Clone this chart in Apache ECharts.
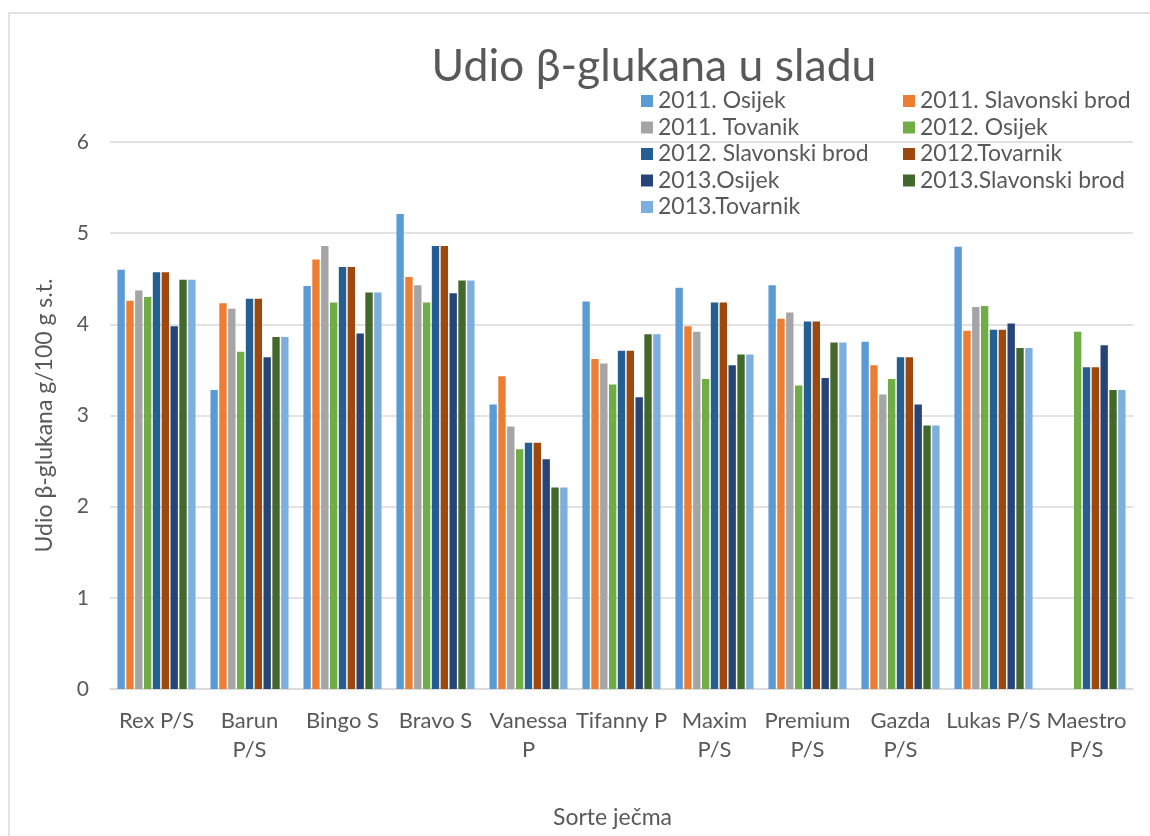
<!DOCTYPE html>
<html>
<head>
<meta charset="utf-8">
<script src="https://cdn.jsdelivr.net/npm/echarts@6/dist/echarts.min.js"></script>
<style>
html,body{margin:0;padding:0;background:#fff;}
#chart{width:1150px;height:836px;}
</style>
</head>
<body>
<div id="chart"></div>
<script>
var categories = ['Rex P/S','Barun\nP/S','Bingo S','Bravo S','Vanessa\nP','Tifanny P','Maxim\nP/S','Premium\nP/S','Gazda\nP/S','Lukas P/S','Maestro\nP/S'];
var seriesNames = ['2011. Osijek','2011. Slavonski brod','2011. Tovanik','2012. Osijek','2012. Slavonski brod','2012.Tovarnik','2013.Osijek','2013.Slavonski brod','2013.Tovarnik'];
var osijek2011   = [4.60, 3.28, 4.42, 5.21, 3.12, 4.25, 4.40, 4.43, 3.81, 4.85, null];
var slavBrod2011 = [4.26, 4.23, 4.71, 4.52, 3.43, 3.62, 3.98, 4.06, 3.55, 3.93, null];
var tovanik2011  = [4.37, 4.17, 4.86, 4.43, 2.88, 3.57, 3.92, 4.13, 3.23, 4.19, null];
var osijek2012   = [4.30, 3.70, 4.24, 4.24, 2.63, 3.34, 3.40, 3.33, 3.40, 4.20, 3.92];
var slavBrod2012 = [4.57, 4.28, 4.63, 4.86, 2.70, 3.71, 4.24, 4.03, 3.64, 3.94, 3.53];
var tovarnik2012 = [4.57, 4.28, 4.63, 4.86, 2.70, 3.71, 4.24, 4.03, 3.64, 3.94, 3.53];
var osijek2013   = [3.98, 3.64, 3.90, 4.34, 2.52, 3.20, 3.55, 3.41, 3.12, 4.01, 3.77];
var slavBrod2013 = [4.49, 3.86, 4.35, 4.48, 2.21, 3.89, 3.67, 3.80, 2.89, 3.74, 3.28];
var tovarnik2013 = [4.49, 3.86, 4.35, 4.48, 2.21, 3.89, 3.67, 3.80, 2.89, 3.74, 3.28];
var yTicks = [0, 1, 2, 3, 4, 5, 6];

var seriesData = [osijek2011, slavBrod2011, tovanik2011, osijek2012, slavBrod2012, tovarnik2012, osijek2013, slavBrod2013, tovarnik2013];
var colors = ['#5B9BD5','#ED7D31','#A5A5A5','#70AD47','#255E91','#9E480E','#264478','#43682B','#7CAFDD'];
var FONT = 'Lato';
var TXT = '#595959';

var chart = echarts.init(document.getElementById('chart'), null, {renderer:'canvas'});
var legendText = {color: TXT, fontSize: 23, fontFamily: FONT, lineHeight: 24};
var option = {
  animation: false,
  color: colors,
  textStyle: {fontFamily: FONT},
  graphic: [
    {type:'rect', shape:{x:9, y:13, width:1300, height:1000}, style:{fill:'none', stroke:'#d9d9d9', lineWidth:1.5}, silent:true, z:-10},
    {type:'text', x:654, y:44, style:{text:'Udio β-glukana u sladu', fontSize:44.5, fontFamily:FONT, fill:TXT, textAlign:'center', textVerticalAlign:'top'}}
  ],
  legend: [
    {orient:'vertical', left:636, top:84, itemWidth:12, itemHeight:12, itemGap:2.5, icon:'rect', textStyle:legendText,
     data:[seriesNames[0], seriesNames[2], seriesNames[4], seriesNames[6], seriesNames[8]]},
    {orient:'vertical', left:898, top:84, itemWidth:12, itemHeight:12, itemGap:2.5, icon:'rect', textStyle:legendText,
     data:[seriesNames[1], seriesNames[3], seriesNames[5], seriesNames[7]]}
  ],
  grid: {left:110, right:17, top:142, bottom:147, containLabel:false},
  xAxis: {
    type:'category', data: categories,
    axisLine:{lineStyle:{color:'#d9d9d9', width:1.5}},
    axisTick:{show:false},
    axisLabel:{color:TXT, fontSize:22, fontFamily:FONT, lineHeight:29, margin:17, interval:0},
    name:'Sorte ječma', nameLocation:'middle', nameGap:117,
    nameTextStyle:{color:TXT, fontSize:23, fontFamily:FONT, padding:[0,18,0,0]}
  },
  yAxis: {
    type:'value', min:yTicks[0], max:yTicks[yTicks.length-1], interval:1,
    axisLine:{show:false}, axisTick:{show:false},
    splitLine:{lineStyle:{color:'#d9d9d9', width:1.5}},
    axisLabel:{color:TXT, fontSize:21, fontFamily:FONT, margin:21},
    name:'Udio β-glukana g/100 g s.t.', nameLocation:'middle', nameGap:54,
    nameTextStyle:{color:TXT, fontSize:23, fontFamily:FONT}
  },
  series: seriesNames.map(function(n, i){
    return {name:n, type:'bar', data:seriesData[i], barGap:'20%', barCategoryGap:'16%'};
  })
};
chart.setOption(option);
</script>
</body>
</html>
